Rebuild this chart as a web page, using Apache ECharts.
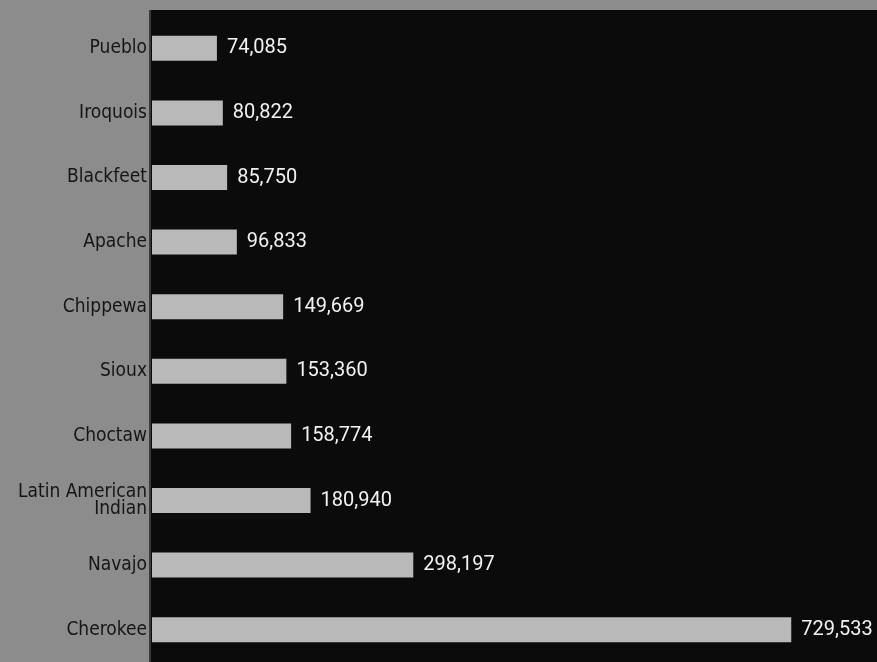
<!DOCTYPE html>
<html>
<head>
<meta charset="utf-8">
<script src="https://cdn.jsdelivr.net/npm/echarts@6/dist/echarts.min.js"></script>
<style>html,body{margin:0;padding:0;background:#0b0b0b;}#c{width:877px;height:662px;}</style>
</head>
<body>
<div id="c"></div>
<script>
const categories = ['Pueblo','Iroquois','Blackfeet','Apache','Chippewa','Sioux','Choctaw','Latin American\nIndian','Navajo','Cherokee'];
const values = [74085,80822,85750,96833,149669,153360,158774,180940,298197,729533];

const chart = echarts.init(document.getElementById('c'));
chart.setOption({
  backgroundColor: '#0b0b0b',
  animation: false,
  graphic: [
    {type:'rect', shape:{x:0,y:0,width:877,height:10}, style:{fill:'#8c8c8c'}, z:-10},
    {type:'rect', shape:{x:0,y:0,width:150,height:662}, style:{fill:'#8c8c8c'}, z:-10},
    {type:'rect', shape:{x:149,y:10,width:2,height:652}, style:{fill:'#3a3a3a'}, z:-9}
  ],
  grid: {left:152, right:24, top:16, bottom:-1, containLabel:false},
  xAxis: {type:'value', min:0, max:800000, show:false},
  yAxis: {
    type:'category', data: categories, inverse:true,
    axisLine:{show:false}, axisTick:{show:false}, splitLine:{show:false},
    axisLabel:{color:'#151515', fontSize:19, margin:5, align:'right', lineHeight:17,
      fontFamily:'"Liberation Sans Narrow","DejaVu Sans Condensed",sans-serif'}
  },
  series: [{
    type:'bar', data: values, barWidth:25,
    itemStyle:{color:'#b9b9b9'},
    label:{show:true, position:'right', distance:10, color:'#f2f2f2', fontSize:20,
      fontFamily:'Roboto, sans-serif',
      formatter: p => p.value.toLocaleString('en-US')}
  }]
});
</script>
</body>
</html>
